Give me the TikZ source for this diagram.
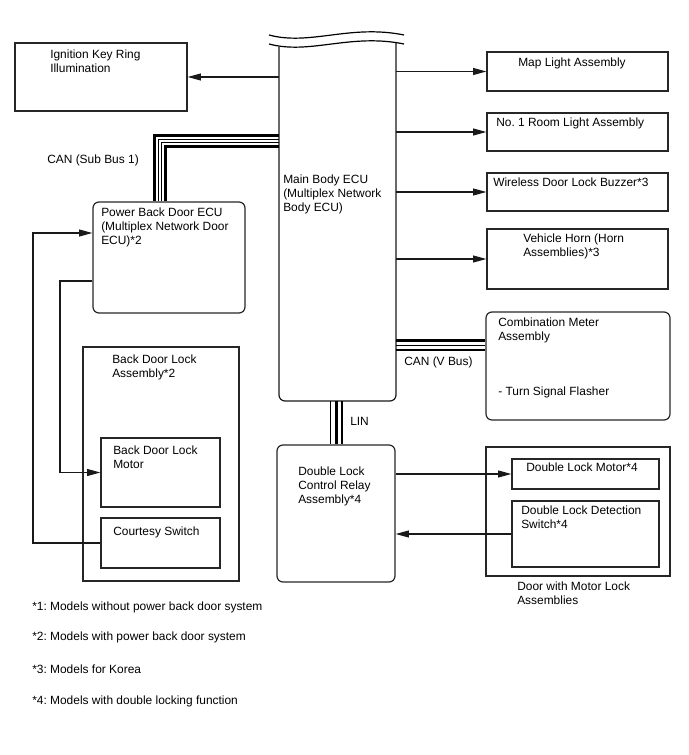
\documentclass[tikz,border=0pt]{standalone}
\usepackage{fontspec}
\setmainfont{Liberation Sans}
\frenchspacing
\usetikzlibrary{arrows.meta,fit}
\begin{document}
\begin{tikzpicture}[x=0.75pt,y=-0.75pt,
  box/.style={draw=black!85,line width=0.9pt,inner sep=0pt,fit={#1}},
  rbox/.style={draw=black!85,line width=0.9pt,inner sep=0pt,rounded corners=4.5pt,fit={#1}},
  ghost/.style={inner sep=0pt,fit={#1}},
  lbl/.style={anchor=north west,inner sep=0pt,align=left,font=\fontsize{8.95}{10.5}\selectfont},
  wire/.style={draw=black!90,line width=0.9pt},
  arr/.style={wire,-{Triangle[length=10pt,width=5.2pt]}},
  busthick/.style={draw=black,line width=2.4pt},
  busthin/.style={draw=black,line width=0.8pt},
  busmid/.style={draw=black,line width=1.3pt},
  wave/.style={draw=black,line width=0.9pt}
]
\useasboundingbox (0,0) rectangle (688,755);

% main body ECU (open top with break lines)
\node[ghost={(279,47) (396,401)}] (main) {};
\draw[wire,rounded corners=4.5pt] (279,47) -- (279,401) -- (396,401) -- (396,43);
\draw[wave] (269,35) .. controls (310,46) and (350,24) .. (404,35);
\draw[wave] (269,44) .. controls (310,55) and (350,33) .. (404,44);
\node[lbl] (maint) at (283,175) {Main Body ECU\\(Multiplex Network\\Body ECU)};

% left top box
\node[box={(15,43) (187,111)}] (ign) {};
\node[lbl] (ignt) at (50,50) {Ignition Key Ring\\Illumination};

% power back door ECU
\node[rbox={(93,202) (245,313)}] (pbd) {};
\node[lbl] (pbdt) at (101,208) {Power Back Door ECU\\(Multiplex Network Door\\ECU)*2};

% back door lock assembly
\node[box={(83,347) (239,581)}] (bdl) {};
\node[lbl] (bdlt) at (112,355) {Back Door Lock\\Assembly*2};
\node[box={(101,438) (220,507)}] (bdm) {};
\node[lbl] (bdmt) at (113,446) {Back Door Lock\\Motor};
\node[box={(101,518) (220,568)}] (cs) {};
\node[lbl] (cst) at (113,527) {Courtesy Switch};

% right boxes
\node[box={(487,52) (668,91)}] (map) {};
\node[lbl] (mapt) at (518,58) {Map Light Assembly};
\node[box={(487,113) (668,151)}] (room) {};
\node[lbl] (roomt) at (496,118) {No. 1 Room Light Assembly};
\node[box={(487,173) (668,211)}] (buz) {};
\node[lbl] (buzt) at (493,178) {Wireless Door Lock Buzzer*3};
\node[box={(487,229) (668,289)}] (horn) {};
\node[lbl] (hornt) at (523,234) {Vehicle Horn (Horn\\Assemblies)*3};

\node[rbox={(486,312) (670,420)}] (comb) {};
\node[lbl] (combt) at (498,318) {Combination Meter\\Assembly};
\node[lbl] (turnt) at (498,387) {- Turn Signal Flasher};

% double lock relay
\node[rbox={(277,445) (395,582)}] (relay) {};
\node[lbl] (relayt) at (298,467) {Double Lock\\Control Relay\\Assembly*4};

% door with motor lock
\node[box={(486,447) (670,576)}] (door) {};
\node[lbl] (doort) at (517,582) {Door with Motor Lock\\Assemblies};
\node[box={(512,459) (659,489)}] (dlm) {};
\node[lbl] (dlmt) at (526,463) {Double Lock Motor*4};
\node[box={(512,501) (659,567)}] (dls) {};
\node[lbl] (dlst) at (521,506) {Double Lock Detection\\Switch*4};

% bus labels
\node[lbl] (cansub) at (47,155) {CAN (Sub Bus 1)};
\node[lbl] (canv) at (404,357) {CAN (V Bus)};
\node[lbl] (lin) at (350,417) {LIN};

% footnotes
\node[lbl] (f1) at (32,602) {*1: Models without power back door system};
\node[lbl] (f2) at (32,632) {*2: Models with power back door system};
\node[lbl] (f3) at (32,665) {*3: Models for Korea};
\node[lbl] (f4) at (32,696) {*4: Models with double locking function};

% CAN sub bus 1
\draw[busthick] (main.west |- 0,135.5) -| (154.5,0 |- pbd.north);
\draw[busthin]  (main.west |- 0,139.2) -| (158.2,0 |- pbd.north);
\draw[busthin]  (main.west |- 0,142.6) -| (161.6,0 |- pbd.north);
\draw[busthick] (main.west |- 0,146.3) -| (165.3,0 |- pbd.north);

% CAN V bus
\draw[busthick] (main.east |- 0,340.5) -- (comb.west |- 0,340.5);
\draw[busthin]  (main.east |- 0,345.5) -- (comb.west |- 0,345.5);
\draw[busmid]   (main.east |- 0,350) -- (comb.west |- 0,350);

% LIN
\draw[busthin]  (330.8,0 |- main.south) -- (330.8,0 |- relay.north);
\draw[busthick] (336.2,0 |- main.south) -- (336.2,0 |- relay.north);
\draw[busthin]  (342,0 |- main.south) -- (342,0 |- relay.north);

% output arrows
\draw[arr] (main.west |- ign.east) -- (ign.east);
\draw[arr] (main.east |- map.west) -- (map.west);
\draw[arr] (main.east |- room.west) -- (room.west);
\draw[arr] (main.east |- buz.west) -- (buz.west);
\draw[arr] (main.east |- horn.west) -- (horn.west);

% left side wiring
\draw[arr] (cs.west) -| (33,233) -- (pbd.west |- 0,233);
\draw[arr] (pbd.west |- 0,281) -| (60,0 |- bdm.west) -- (bdm.west);

% relay wiring
\draw[arr] (relay.east |- dlm.west) -- (dlm.west);
\draw[arr] (dls.west) -- (relay.east |- dls.west);
\end{tikzpicture}
\end{document}
